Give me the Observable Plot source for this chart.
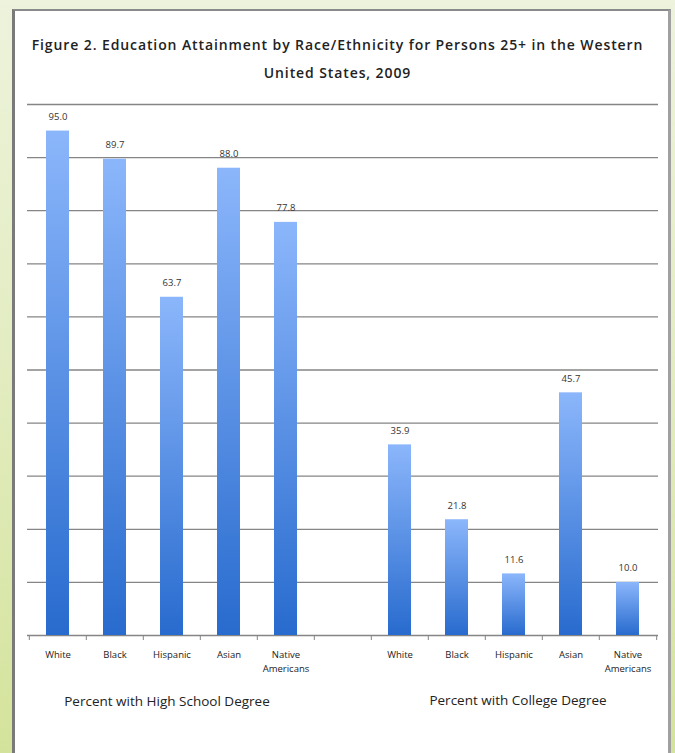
<!DOCTYPE html>
<html>
<head>
<meta charset="utf-8">
<script src="https://cdn.jsdelivr.net/npm/d3@7"></script>
<script src="https://cdn.jsdelivr.net/npm/@observablehq/plot@0.6"></script>
<style>
  html, body { margin: 0; padding: 0; }
  body {
    width: 675px; height: 753px; overflow: hidden; position: relative;
    background: linear-gradient(180deg, #edf3dc 0%, #e2ecbf 50%, #d4e39b 100%);
    font-family: "Open Sans", Lato, sans-serif;
  }
  #panel {
    position: absolute; left: 12px; top: 9px; width: 653px; height: 760px;
    background: #fff;
    border-left: 3px solid #7a7a7a; border-top: 2px solid #8a8a8a; border-right: 3px solid #a0a0a0;
  }
  #title {
    position: absolute; left: 0; top: 31px; width: 675px; text-align: center;
    font-size: 14px; font-weight: 600; color: #222; line-height: 28px; letter-spacing: 0.9px;
  }
  #chart { position: absolute; left: 0; top: 90px; }
</style>
</head>
<body>
<div id="panel"></div>
<div id="title">Figure 2. Education Attainment by Race/Ethnicity for Persons 25+ in the Western<br>United States, 2009</div>
<div id="chart"></div>
<script>
const groups = ["Percent with High School Degree", "Percent with College Degree"];
const races = ["White", "Black", "Hispanic", "Asian", "Native\nAmericans"];
const highSchool = [95.0, 89.7, 63.7, 88.0, 77.8];
const college = [35.9, 21.8, 11.6, 45.7, 10.0];
const gridValues = [0, 10, 20, 30, 40, 50, 60, 70, 80, 90, 100];

// Category keys: 5 high-school slots, one empty gap slot, 5 college slots
const hsKeys = races.map(r => "HS|" + r);
const colKeys = races.map(r => "C|" + r);
const keys = [...hsKeys, "gap|", ...colKeys];
const bars = [
  ...races.map((r, i) => ({key: hsKeys[i], value: highSchool[i]})),
  ...races.map((r, i) => ({key: colKeys[i], value: college[i]}))
];

const W = 675, H = 640, mL = 27, mR = 17, mT = 14, mB = 95;
const step = (W - mL - mR) / keys.length;

const defs = () => {
  const d = d3.create("svg:defs");
  const g = d.append("linearGradient").attr("id", "barGrad")
    .attr("x1", 0).attr("y1", 0).attr("x2", 0).attr("y2", 1);
  g.append("stop").attr("offset", "0%").attr("stop-color", "#8bb6fb");
  g.append("stop").attr("offset", "100%").attr("stop-color", "#286bce");
  return d.node();
};

const font = "'Open Sans', Lato, sans-serif";

const plot = Plot.plot({
  width: W, height: H,
  marginLeft: mL, marginRight: mR, marginTop: mT, marginBottom: mB,
  style: {fontFamily: font, background: "transparent"},
  x: {type: "band", domain: keys, paddingInner: 0.6, paddingOuter: 0.3, axis: null},
  y: {domain: [0, 100], axis: null},
  marks: [
    defs,
    Plot.ruleY(gridValues, {y: d => d, stroke: "#858585", strokeWidth: 1.3}),
    Plot.barY(bars, {x: "key", y: "value", fill: "url(#barGrad)"}),
    Plot.text(bars, {x: "key", y: "value", text: d => d.value.toFixed(1), dy: -14,
      fontSize: 9.5, fill: "#333", letterSpacing: "0.5px"}),
    // boundary tick marks on the baseline
    Plot.ruleX(keys, {x: d => d, y1: 0, y2: 0, insetBottom: -5, dx: -step / 2, stroke: "#858585"}),
    Plot.ruleX([keys[keys.length - 1]], {x: d => d, y1: 0, y2: 0, insetBottom: -5, dx: step / 2, stroke: "#858585"}),
    // category labels
    Plot.text(bars, {x: "key", y: 0, text: d => d.key.split("|")[1], dy: 13, lineAnchor: "top",
      fontSize: 9.5, fill: "#222", lineHeight: 1.45, letterSpacing: "0.5px"}),
    // group labels
    Plot.text([groups[0]], {x: () => hsKeys[2], y: 0, text: d => d, dx: -5, dy: 66,
      fontSize: 13.5, fill: "#222", letterSpacing: "1.2px"}),
    Plot.text([groups[1]], {x: () => colKeys[2], y: 0, text: d => d, dx: 4, dy: 65,
      fontSize: 13.5, fill: "#222", letterSpacing: "1.2px"})
  ]
});

document.getElementById("chart").appendChild(plot);
</script>
</body>
</html>
